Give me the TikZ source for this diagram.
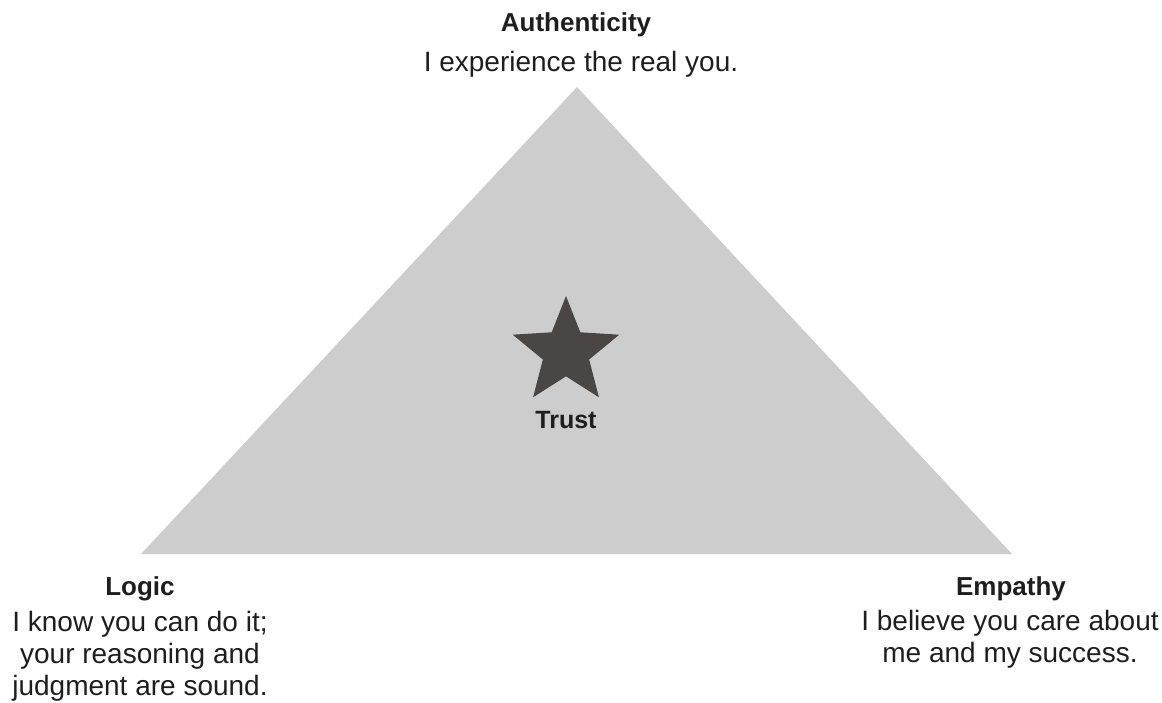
\documentclass[tikz,border=0pt]{standalone}
\usepackage{fontspec}
\setmainfont{Liberation Sans}
\usetikzlibrary{shapes.geometric}
\definecolor{trifill}{HTML}{CDCDCD}
\definecolor{stardark}{HTML}{4A4644}
\definecolor{txt}{HTML}{1E1E1E}
\tikzset{
  head/.style={anchor=base, inner sep=0pt, text=txt, font=\fontsize{26}{30}\selectfont\bfseries},
  body/.style={anchor=base, inner sep=0pt, text=txt, align=center, font=\fontsize{28}{32}\selectfont},
  trustlbl/.style={anchor=base, inner sep=0pt, text=txt, font=\fontsize{25}{30}\selectfont\bfseries},
  tri/.style={fill=trifill, draw=none},
  starshape/.style={star, star points=5, star point ratio=2.3, minimum size=112pt, inner sep=0pt, fill=stardark, draw=none}
}
\begin{document}
\begin{tikzpicture}[x=1pt,y=-1pt]
\useasboundingbox (0,0) rectangle (1162,703);
\coordinate (apex) at (577,87);
\coordinate (left) at (141,554);
\coordinate (right) at (1012,554);
\fill[tri] (apex) -- (left) -- (right) -- cycle;
\node[starshape] (star) at (566,352) {};
\node[trustlbl] (trust) at (566,428) {Trust};
\node[head] (auth) at (576,32) {Authenticity};
\node[body] (authtxt) at (581,72) {I experience the real you.};
\node[head] (logic) at (140,595) {Logic};
\node[body] (logictxt) at (140,695) {I know you can do it;\\your reasoning and\\judgment are sound.};
\node[head] (emp) at (1011,595) {Empathy};
\node[body] (emptxt) at (1010,662) {I believe you care about\\me and my success.};
\end{tikzpicture}
\end{document}
